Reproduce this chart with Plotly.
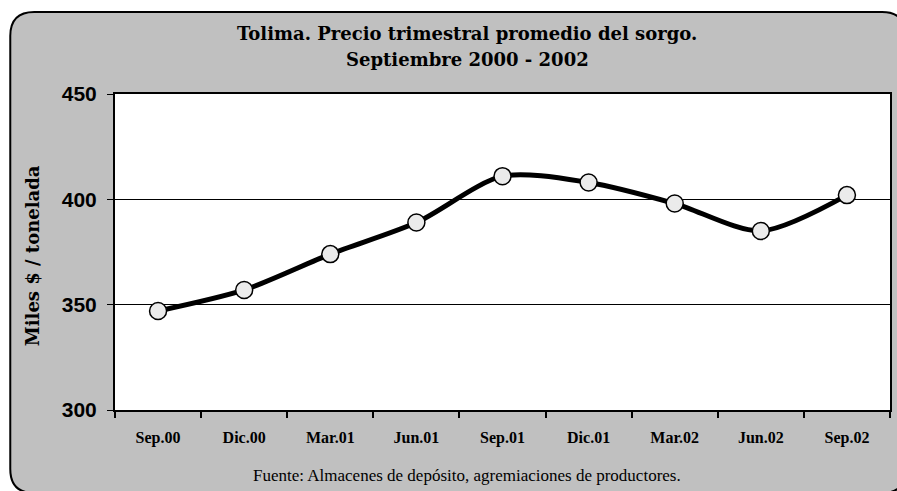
import plotly.graph_objects as go

categories = ["Sep.00", "Dic.00", "Mar.01", "Jun.01", "Sep.01", "Dic.01", "Mar.02", "Jun.02", "Sep.02"]
precio = [347, 357, 374, 389, 411, 408, 398, 385, 402]
y_ticks = [300, 350, 400, 450]

W, H = 897, 491
L, R, T, B = 115, 5, 94, 81
PW, PH = W - L - R, H - T - B


def px(x):
    return (x - L) / PW


def py(y):
    return (H - B - y) / PH


def rounded_path(x0, y0, x1, y1, r):
    pts = []
    pts.append(f"M {px(x0 + r)},{py(y0)}")
    pts.append(f"L {px(x1 - r)},{py(y0)}")
    pts.append(f"Q {px(x1)},{py(y0)} {px(x1)},{py(y0 + r)}")
    pts.append(f"L {px(x1)},{py(y1 - r)}")
    pts.append(f"Q {px(x1)},{py(y1)} {px(x1 - r)},{py(y1)}")
    pts.append(f"L {px(x0 + r)},{py(y1)}")
    pts.append(f"Q {px(x0)},{py(y1)} {px(x0)},{py(y1 - r)}")
    pts.append(f"L {px(x0)},{py(y0 + r)}")
    pts.append(f"Q {px(x0)},{py(y0)} {px(x0 + r)},{py(y0)}")
    pts.append("Z")
    return " ".join(pts)


fig = go.Figure()
fig.add_trace(go.Scatter(
    x=categories, y=precio, mode="lines+markers",
    line=dict(color="black", width=5, shape="spline", smoothing=0.8),
    marker=dict(size=17, color="#EBEBEB", line=dict(color="black", width=1.5)),
    showlegend=False, hoverinfo="skip",
))

fig.update_layout(
    width=W, height=H,
    margin=dict(l=L, r=R, t=T, b=B),
    paper_bgcolor="white", plot_bgcolor="white",
    shapes=[
        dict(type="path", xref="paper", yref="paper",
             path=rounded_path(10, 12, 908, 493, 24),
             fillcolor="#C0C0C0", line=dict(color="black", width=2), layer="below"),
        dict(type="rect", xref="paper", yref="paper", x0=0, x1=1, y0=0, y1=1,
             fillcolor="white", line=dict(width=0), layer="below"),
    ],
    xaxis=dict(
        type="category", showgrid=False, showline=True, linecolor="black", linewidth=2,
        mirror=True, ticks="outside", tickson="boundaries", ticklen=6, tickwidth=2,
        tickcolor="black", ticklabelstandoff=12,
        tickfont=dict(family="Liberation Serif", size=16, color="black", weight="bold"),
        range=[-0.5, len(categories) - 0.5],
    ),
    yaxis=dict(
        range=[300, 450], tickvals=y_ticks, showgrid=True, gridcolor="black", gridwidth=1,
        showline=True, linecolor="black", linewidth=2, mirror=True,
        ticks="outside", ticklen=6, tickwidth=1, tickcolor="black", ticklabelstandoff=6,
        tickfont=dict(family="Liberation Sans", size=21, color="black", weight="bold"),
        zeroline=False,
    ),
    annotations=[
        dict(text="Tolima. Precio trimestral promedio del sorgo.", xref="paper", yref="paper",
             x=px(468), y=py(33), xanchor="center", yanchor="middle", showarrow=False,
             font=dict(family="DejaVu Serif", size=18, color="black", weight="bold")),
        dict(text="Septiembre 2000 - 2002", xref="paper", yref="paper",
             x=px(468), y=py(59), xanchor="center", yanchor="middle", showarrow=False,
             font=dict(family="DejaVu Serif", size=18, color="black", weight="bold")),
        dict(text="Miles $ / tonelada", xref="paper", yref="paper",
             x=px(32), y=py(256), xanchor="center", yanchor="middle", showarrow=False,
             textangle=-90,
             font=dict(family="DejaVu Serif", size=18, color="black", weight="bold")),
        dict(text="Fuente: Almacenes de depósito, agremiaciones de productores.",
             xref="paper", yref="paper",
             x=px(468), y=py(475), xanchor="center", yanchor="middle", showarrow=False,
             font=dict(family="Liberation Serif", size=17, color="black")),
    ],
)

fig.write_html("out.html", config={"displayModeBar": False},
               post_script="document.body.style.margin='0';")
